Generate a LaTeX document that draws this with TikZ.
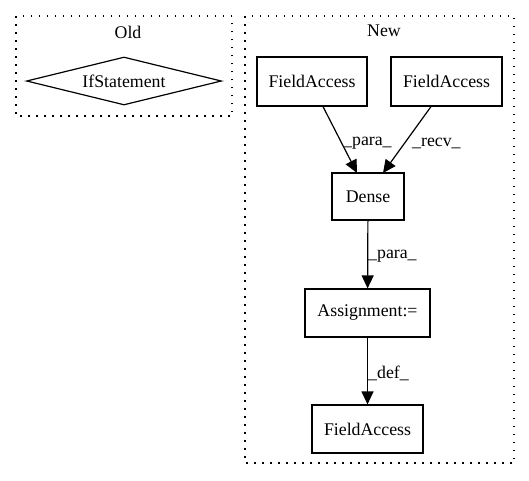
\documentclass[tikz,border=0pt]{standalone}
\usepackage{fontspec}
\setmainfont{Liberation Serif}
\usetikzlibrary{arrows.meta,shapes.geometric}
\begin{document}
\begin{tikzpicture}[x=1pt,y=-1pt,
  every node/.style={font=\fontsize{17.8}{20}\selectfont},
  box/.style={draw,line width=1.2pt,rectangle,inner sep=0pt},
  cluster/.style={draw,line width=1.3pt,dash pattern=on 1.5pt off 6.5pt},
  edge/.style={line width=1.2pt,-{Triangle[length=13pt,width=12pt]}},
  elabel/.style={inner sep=0pt}]
\useasboundingbox (0,0) rectangle (529,480);
% clusters
\draw[cluster] (16,16) rectangle (232,116);
\node (oldlbl) at (128,32) {Old};
\draw[cluster] (245,16) rectangle (514,463);
\node (newlbl) at (384,31) {New};
% Old
\node[draw,line width=1.2pt,diamond,aspect=4.1,inner sep=0pt,minimum width=195pt,minimum height=48pt] (ifs) at (124,81) {IfStatement};
% New
\node[box,minimum width=110pt,minimum height=49pt] (fa1) at (312,81.5) {FieldAccess};
\node[box,minimum width=111pt,minimum height=49pt] (fa2) at (446.5,81.5) {FieldAccess};
\node[box,minimum width=72pt,minimum height=47pt] (dense) at (368,196.5) {Dense};
\node[box,minimum width=125pt,minimum height=48pt] (asg) at (367.5,313) {Assignment:=};
\node[box,minimum width=111pt,minimum height=48pt] (fa3) at (367.5,429) {FieldAccess};
\draw[edge] (fa1.south -| 323,0) -- (357,173);
\draw[edge] (fa2.south -| 431,0) -- (383,173);
\draw[edge] (dense) -- (asg);
\draw[edge] (asg) -- (fa3);
\node[elabel,anchor=west] (l1) at (343,143) {\_para\_};
\node[elabel,anchor=west] (l2) at (412,143) {\_recv\_};
\node[elabel,anchor=west] (l3) at (368,256) {\_para\_};
\node[elabel,anchor=west] (l4) at (368,373) {\_def\_};
\end{tikzpicture}
\end{document}
